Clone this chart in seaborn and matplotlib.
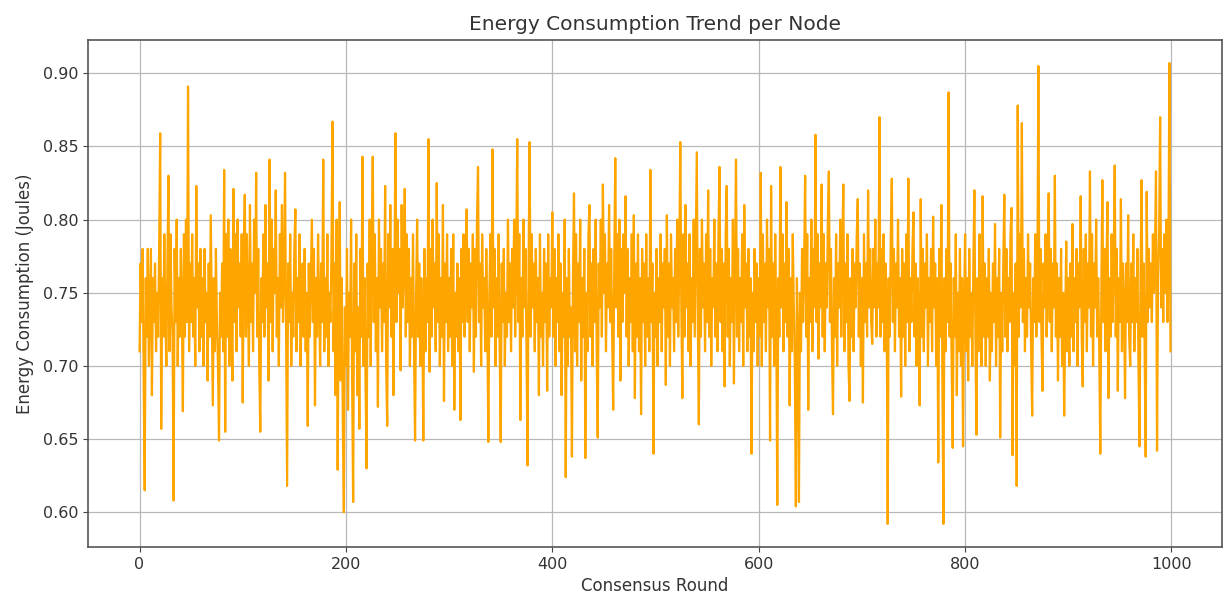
import matplotlib
matplotlib.use("Agg")
import matplotlib.pyplot as plt
import seaborn as sns
import numpy as np
import pandas as pd

title = "Energy Consumption Trend per Node"
x_label = "Consensus Round"
y_label = "Energy Consumption (Joules)"

# Energy per consensus round (20 rounds per row)
energy = [
    0.71, 0.77, 0.73, 0.78, 0.69, 0.615, 0.76, 0.72, 0.78, 0.70, 0.74, 0.78, 0.68, 0.76, 0.73, 0.77, 0.71, 0.75, 0.72, 0.78,
    0.859, 0.657, 0.76, 0.72, 0.79, 0.73, 0.70, 0.77, 0.830, 0.71, 0.79, 0.74, 0.72, 0.608, 0.78, 0.73, 0.80, 0.70, 0.76, 0.72,
    0.78, 0.74, 0.669, 0.79, 0.72, 0.80, 0.73, 0.891, 0.71, 0.77, 0.73, 0.79, 0.72, 0.76, 0.70, 0.823, 0.74, 0.77, 0.71, 0.78,
    0.72, 0.76, 0.70, 0.78, 0.73, 0.75, 0.69, 0.77, 0.72, 0.803, 0.74, 0.673, 0.76, 0.71, 0.78, 0.73, 0.70, 0.649, 0.75, 0.72,
    0.77, 0.71, 0.834, 0.655, 0.79, 0.72, 0.80, 0.70, 0.78, 0.74, 0.69, 0.821, 0.73, 0.79, 0.71, 0.80, 0.74, 0.77, 0.72, 0.79,
    0.675, 0.78, 0.817, 0.72, 0.79, 0.74, 0.70, 0.81, 0.73, 0.77, 0.71, 0.80, 0.75, 0.832, 0.72, 0.78, 0.70, 0.655, 0.76, 0.73,
    0.79, 0.72, 0.81, 0.74, 0.77, 0.69, 0.841, 0.73, 0.80, 0.71, 0.78, 0.75, 0.82, 0.72, 0.76, 0.70, 0.79, 0.74, 0.81, 0.73,
    0.76, 0.832, 0.72, 0.618, 0.77, 0.73, 0.79, 0.70, 0.75, 0.72, 0.78, 0.807, 0.71, 0.76, 0.73, 0.79, 0.70, 0.74, 0.77, 0.72,
    0.78, 0.71, 0.75, 0.659, 0.77, 0.72, 0.76, 0.80, 0.73, 0.78, 0.673, 0.76, 0.72, 0.79, 0.74, 0.70, 0.77, 0.73, 0.841, 0.71,
    0.76, 0.72, 0.79, 0.70, 0.75, 0.73, 0.78, 0.867, 0.71, 0.77, 0.68, 0.80, 0.629, 0.75, 0.812, 0.69, 0.76, 0.66, 0.600, 0.74,
    0.70, 0.78, 0.67, 0.75, 0.72, 0.80, 0.69, 0.607, 0.77, 0.71, 0.79, 0.68, 0.74, 0.657, 0.78, 0.72, 0.843, 0.70, 0.76, 0.69,
    0.630, 0.77, 0.72, 0.80, 0.70, 0.78, 0.843, 0.73, 0.79, 0.71, 0.76, 0.672, 0.80, 0.74, 0.78, 0.71, 0.77, 0.73, 0.823, 0.70,
    0.659, 0.79, 0.74, 0.81, 0.72, 0.78, 0.68, 0.76, 0.859, 0.73, 0.80, 0.75, 0.78, 0.697, 0.81, 0.74, 0.77, 0.821, 0.72, 0.79,
    0.73, 0.78, 0.70, 0.76, 0.72, 0.79, 0.71, 0.649, 0.75, 0.80, 0.72, 0.77, 0.70, 0.76, 0.73, 0.649, 0.78, 0.71, 0.76, 0.73,
    0.855, 0.696, 0.78, 0.72, 0.80, 0.74, 0.77, 0.71, 0.825, 0.73, 0.79, 0.70, 0.76, 0.72, 0.81, 0.676, 0.77, 0.73, 0.79, 0.71,
    0.76, 0.72, 0.78, 0.70, 0.79, 0.670, 0.75, 0.72, 0.77, 0.71, 0.76, 0.663, 0.78, 0.73, 0.79, 0.72, 0.76, 0.807, 0.73, 0.78,
    0.71, 0.77, 0.74, 0.79, 0.696, 0.78, 0.72, 0.80, 0.836, 0.73, 0.77, 0.70, 0.79, 0.74, 0.76, 0.71, 0.78, 0.73, 0.648, 0.75,
    0.79, 0.72, 0.848, 0.74, 0.78, 0.70, 0.76, 0.72, 0.79, 0.71, 0.648, 0.77, 0.73, 0.78, 0.70, 0.75, 0.72, 0.80, 0.73, 0.77,
    0.71, 0.78, 0.74, 0.80, 0.72, 0.77, 0.855, 0.73, 0.79, 0.663, 0.76, 0.72, 0.80, 0.74, 0.78, 0.71, 0.632, 0.77, 0.853, 0.72,
    0.79, 0.74, 0.77, 0.71, 0.78, 0.73, 0.76, 0.680, 0.79, 0.72, 0.75, 0.70, 0.78, 0.73, 0.77, 0.683, 0.79, 0.72, 0.76, 0.74,
    0.805, 0.72, 0.78, 0.70, 0.76, 0.73, 0.79, 0.71, 0.77, 0.68, 0.75, 0.72, 0.80, 0.624, 0.76, 0.70, 0.78, 0.72, 0.74, 0.638,
    0.76, 0.818, 0.71, 0.79, 0.70, 0.77, 0.73, 0.80, 0.69, 0.76, 0.72, 0.78, 0.637, 0.75, 0.71, 0.79, 0.810, 0.72, 0.77, 0.70,
    0.78, 0.73, 0.80, 0.71, 0.651, 0.77, 0.74, 0.80, 0.72, 0.824, 0.75, 0.79, 0.71, 0.77, 0.74, 0.81, 0.73, 0.78, 0.72, 0.670,
    0.77, 0.842, 0.74, 0.79, 0.72, 0.80, 0.690, 0.78, 0.73, 0.79, 0.75, 0.816, 0.72, 0.78, 0.70, 0.76, 0.73, 0.79, 0.71, 0.803,
    0.678, 0.77, 0.72, 0.79, 0.71, 0.76, 0.667, 0.78, 0.73, 0.77, 0.70, 0.79, 0.72, 0.76, 0.71, 0.834, 0.73, 0.77, 0.640, 0.75,
    0.72, 0.78, 0.70, 0.76, 0.73, 0.79, 0.71, 0.77, 0.74, 0.78, 0.687, 0.803, 0.72, 0.77, 0.70, 0.79, 0.74, 0.76, 0.71, 0.78,
    0.73, 0.80, 0.72, 0.77, 0.853, 0.74, 0.678, 0.79, 0.72, 0.81, 0.74, 0.77, 0.71, 0.79, 0.700, 0.76, 0.73, 0.80, 0.72, 0.78,
    0.846, 0.73, 0.660, 0.78, 0.72, 0.80, 0.74, 0.77, 0.71, 0.79, 0.73, 0.820, 0.72, 0.78, 0.70, 0.76, 0.74, 0.80, 0.72, 0.77,
    0.71, 0.79, 0.836, 0.73, 0.78, 0.71, 0.77, 0.686, 0.79, 0.823, 0.72, 0.78, 0.70, 0.76, 0.73, 0.80, 0.688, 0.77, 0.841, 0.72,
    0.78, 0.71, 0.76, 0.73, 0.79, 0.70, 0.810, 0.74, 0.77, 0.71, 0.78, 0.72, 0.76, 0.640, 0.75, 0.71, 0.78, 0.73, 0.77, 0.70,
    0.76, 0.72, 0.832, 0.70, 0.79, 0.73, 0.77, 0.71, 0.80, 0.74, 0.78, 0.649, 0.823, 0.72, 0.77, 0.70, 0.79, 0.73, 0.605, 0.76,
    0.72, 0.836, 0.74, 0.79, 0.71, 0.77, 0.73, 0.812, 0.72, 0.78, 0.673, 0.76, 0.71, 0.79, 0.74, 0.70, 0.604, 0.76, 0.72, 0.607,
    0.75, 0.71, 0.78, 0.73, 0.77, 0.830, 0.72, 0.79, 0.670, 0.76, 0.73, 0.80, 0.71, 0.78, 0.74, 0.858, 0.73, 0.79, 0.705, 0.77,
    0.74, 0.824, 0.72, 0.79, 0.71, 0.77, 0.74, 0.80, 0.833, 0.73, 0.78, 0.71, 0.667, 0.76, 0.72, 0.79, 0.70, 0.77, 0.74, 0.80,
    0.72, 0.78, 0.824, 0.71, 0.77, 0.73, 0.79, 0.70, 0.676, 0.76, 0.72, 0.78, 0.71, 0.77, 0.74, 0.79, 0.814, 0.72, 0.77, 0.70,
    0.76, 0.675, 0.79, 0.73, 0.77, 0.72, 0.820, 0.74, 0.78, 0.73, 0.715, 0.78, 0.74, 0.80, 0.72, 0.77, 0.74, 0.870, 0.72, 0.78,
    0.73, 0.79, 0.71, 0.77, 0.74, 0.592, 0.76, 0.72, 0.79, 0.828, 0.73, 0.78, 0.71, 0.77, 0.74, 0.80, 0.72, 0.76, 0.679, 0.78,
    0.72, 0.77, 0.70, 0.79, 0.73, 0.828, 0.71, 0.76, 0.73, 0.78, 0.805, 0.72, 0.77, 0.70, 0.76, 0.73, 0.673, 0.814, 0.72, 0.78,
    0.71, 0.77, 0.74, 0.79, 0.70, 0.76, 0.73, 0.78, 0.71, 0.802, 0.74, 0.77, 0.70, 0.76, 0.634, 0.78, 0.72, 0.810, 0.69, 0.592,
    0.76, 0.71, 0.78, 0.73, 0.887, 0.72, 0.77, 0.70, 0.644, 0.76, 0.72, 0.79, 0.68, 0.75, 0.71, 0.78, 0.70, 0.76, 0.645, 0.74,
    0.790, 0.71, 0.76, 0.69, 0.78, 0.72, 0.75, 0.70, 0.77, 0.820, 0.72, 0.653, 0.76, 0.71, 0.79, 0.73, 0.70, 0.816, 0.72, 0.77,
    0.70, 0.76, 0.72, 0.78, 0.69, 0.75, 0.71, 0.77, 0.73, 0.797, 0.70, 0.76, 0.72, 0.78, 0.651, 0.75, 0.71, 0.77, 0.817, 0.72,
    0.78, 0.71, 0.76, 0.73, 0.79, 0.808, 0.639, 0.75, 0.70, 0.77, 0.618, 0.878, 0.72, 0.79, 0.74, 0.866, 0.73, 0.78, 0.71, 0.76,
    0.72, 0.79, 0.74, 0.77, 0.71, 0.666, 0.76, 0.73, 0.79, 0.72, 0.75, 0.905, 0.73, 0.78, 0.72, 0.683, 0.77, 0.74, 0.79, 0.72,
    0.76, 0.818, 0.73, 0.78, 0.71, 0.77, 0.74, 0.830, 0.72, 0.77, 0.690, 0.76, 0.72, 0.78, 0.70, 0.75, 0.666, 0.73, 0.785, 0.71,
    0.76, 0.70, 0.77, 0.72, 0.797, 0.71, 0.76, 0.73, 0.78, 0.70, 0.77, 0.74, 0.816, 0.72, 0.686, 0.78, 0.73, 0.79, 0.71, 0.77,
    0.74, 0.833, 0.72, 0.79, 0.70, 0.77, 0.74, 0.80, 0.72, 0.76, 0.71, 0.640, 0.75, 0.827, 0.73, 0.78, 0.71, 0.77, 0.812, 0.678,
    0.76, 0.72, 0.79, 0.73, 0.77, 0.837, 0.72, 0.78, 0.683, 0.76, 0.73, 0.814, 0.71, 0.77, 0.74, 0.678, 0.77, 0.73, 0.803, 0.72,
    0.700, 0.77, 0.73, 0.79, 0.71, 0.76, 0.73, 0.78, 0.70, 0.645, 0.76, 0.827, 0.72, 0.77, 0.71, 0.638, 0.819, 0.73, 0.78, 0.74,
    0.77, 0.73, 0.79, 0.75, 0.78, 0.833, 0.642, 0.76, 0.79, 0.870, 0.74, 0.78, 0.73, 0.79, 0.75, 0.80, 0.73, 0.77, 0.907, 0.710,
]
rounds = list(range(len(energy)))

line_color = "orange"

fig = plt.figure(figsize=(12.31, 5.99), dpi=100)
ax = fig.add_axes([88 / 1231, 1 - 547 / 599, (1222 - 88) / 1231, (547 - 40) / 599])

df = pd.DataFrame({"round": rounds, "energy": energy})
sns.lineplot(data=df, x="round", y="energy", color=line_color, linewidth=1.6, ax=ax)

ax.set_title(title, fontsize=14.5, color="#333333", pad=7)
ax.set_xlabel(x_label, fontsize=12, color="#333333", labelpad=4)
ax.set_ylabel(y_label, fontsize=12, color="#333333", labelpad=6)
ax.tick_params(axis="both", labelsize=11.5, labelcolor="#333333", color="#444444")
for s in ax.spines.values():
    s.set_color("#555555")
    s.set_linewidth(1.2)
ax.grid(True, color="#b8b8b8", linewidth=0.9)
ax.set_axisbelow(True)

fig.savefig("out.png", dpi=100)
